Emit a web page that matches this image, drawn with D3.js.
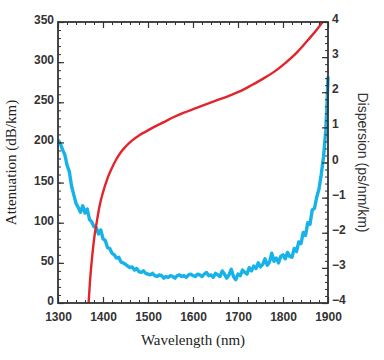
<!DOCTYPE html>
<html><head><meta charset="utf-8">
<script src="https://cdn.jsdelivr.net/npm/d3@7"></script>
<style>body{margin:0;background:#fff}svg{display:block}</style>
</head><body>
<svg id="c" width="384" height="360"></svg>
<script>
// ---- data ----
const attWavelength = [1300,1305,1310,1315,1320,1325,1330,1335,1340,1345,1350,1355,1360,1365,1370,1375,1380,1385,1390,1395,
1400,1405,1410,1415,1420,1425,1430,1435,1440,1445,1450,1455,1460,1465,1470,1475,1480,1485,1490,1495,
1500,1505,1510,1515,1520,1525,1530,1535,1540,1545,1550,1555,1560,1565,1570,1575,1580,1585,1590,1595,
1600,1605,1610,1615,1620,1625,1630,1635,1640,1645,1650,1655,1660,1665,1670,1675,1680,1685,1690,1695,
1700,1705,1710,1715,1720,1725,1730,1735,1740,1745,1750,1755,1760,1765,1770,1775,1780,1785,1790,1795,
1800,1805,1810,1815,1820,1825,1830,1835,1840,1845,1850,1855,1860,1865,1870,1875,1880,1885,1890,1895,1898,1900];
const attValues = [203,199,191,185,172,164,146,135,124,119,113,121,112,117,104,101,95,94,86,91,
80,78,69,68,62,60,56,57,51,50,48,46,44,45,41,43,39,38,40,37,
36,35,37,34,33,35,34,31,33,32,34,33,31,34,35,33,34,32,35,36,
34,33,36,35,33,36,38,34,35,32,37,35,33,40,36,31,35,42,33,29,
36,34,41,38,36,44,40,46,43,50,45,48,55,47,51,62,52,56,50,58,
60,55,63,58,57,68,64,76,74,88,84,100,98,116,118,132,142,160,182,215,250,282];

const dispWavelength = [1368,1371,1375,1380,1386,1393,1400,1410,1420,1430,1440,1450,1465,1480,1495,1515,1535,1555,
1580,1605,1630,1655,1680,1705,1730,1755,1780,1805,1830,1855,1875,1888];
const dispValues = [-4.0,-3.4,-2.8,-2.2,-1.7,-1.2,-0.85,-0.45,-0.15,0.1,0.3,0.45,0.63,0.77,0.88,1.02,1.15,1.28,
1.42,1.54,1.66,1.78,1.9,2.03,2.2,2.38,2.58,2.83,3.12,3.48,3.78,4.0];

const xTicks = [1300,1400,1500,1600,1700,1800,1900];
const yLeftTicks = [0,50,100,150,200,250,300,350];
const yRightTicks = [-4,-3,-2,-1,0,1,2,3,4];

// ---- layout ----
const L = 58, R = 328, T = 22, B = 303;
const svg = d3.select("#c");
const x = d3.scaleLinear().domain([1300,1900]).range([L,R]);
const yL = d3.scaleLinear().domain([0,350]).range([B,T]);
const yR = d3.scaleLinear().domain([-4,4]).range([B,T]);

const axisCol = "#333";
const tickFont = "bold 12px 'Liberation Sans', Arial, sans-serif";

// curves (clipped)
svg.append("clipPath").attr("id","clip").append("rect").attr("x",L).attr("y",T-2).attr("width",R-L+2).attr("height",B-T+2);
const g = svg.append("g").attr("clip-path","url(#clip)");

g.append("path")
  .datum(attWavelength.map((w,i)=>[w,attValues[i]]))
  .attr("fill","none").attr("stroke","#16b2e8").attr("stroke-width",3.4).attr("stroke-linejoin","round")
  .attr("d", d3.line().x(d=>x(d[0])).y(d=>yL(d[1])));

g.append("path")
  .datum(dispWavelength.map((w,i)=>[w,dispValues[i]]))
  .attr("fill","none").attr("stroke","#e3242b").attr("stroke-width",2.4)
  .attr("d", d3.line().curve(d3.curveMonotoneX).x(d=>x(d[0])).y(d=>yR(d[1])));

// minor ticks
function minor(axis, tr, vals){
  const a = svg.append("g").attr("transform",tr).call(axis.tickValues(vals).tickSize(-3).tickFormat(""));
  a.select(".domain").remove();
  a.selectAll("line").attr("stroke",axisCol).attr("stroke-width",1);
}
const xMinor = x.ticks(30), yLMinor = yL.ticks(35), yRMinor = yR.ticks(40);
minor(d3.axisBottom(x), `translate(0,${B})`, xMinor);
minor(d3.axisTop(x), `translate(0,${T})`, xMinor);
minor(d3.axisLeft(yL), `translate(${L},0)`, yLMinor);
minor(d3.axisRight(yR), `translate(${R},0)`, yRMinor);

// major axes
function major(axis, tr, vals, labels){
  const a = svg.append("g").attr("transform",tr)
    .call(axis.tickValues(vals).tickSizeInner(-6).tickSizeOuter(0).tickPadding(4).tickFormat(d3.format("d")));
  a.select(".domain").remove();
  a.selectAll("line").attr("stroke",axisCol).attr("stroke-width",1.2);
  if(!labels) a.selectAll("text").remove();
  else a.selectAll("text").style("font",tickFont).attr("fill","#333");
  return a;
}
major(d3.axisBottom(x), `translate(0,${B})`, xTicks, true).selectAll("text").attr("y",9);
major(d3.axisTop(x), `translate(0,${T})`, xTicks, false);
major(d3.axisLeft(yL), `translate(${L},0)`, yLeftTicks, true).selectAll("text").attr("dy","0.12em");
major(d3.axisRight(yR), `translate(${R},0)`, yRightTicks, true).selectAll("text").attr("dy","0.05em");

// frame
svg.append("rect").attr("x",L).attr("y",T).attr("width",R-L).attr("height",B-T)
  .attr("fill","none").attr("stroke",axisCol).attr("stroke-width",1.8);

// axis titles
svg.append("text").attr("transform",`translate(16,${(T+B)/2}) rotate(-90)`)
  .attr("text-anchor","middle").attr("fill","#222")
  .style("font","15px 'Liberation Serif', 'Times New Roman', serif").text("Attenuation (dB/km)");
svg.append("text").attr("x",(L+R)/2).attr("y",345)
  .attr("text-anchor","middle").attr("fill","#222")
  .style("font","15px 'Liberation Serif', 'Times New Roman', serif").text("Wavelength (nm)");
svg.append("text").attr("transform",`translate(358,${(T+B)/2}) rotate(90)`)
  .attr("text-anchor","middle").attr("fill","#333")
  .style("font","14px 'Liberation Sans', Arial, sans-serif").text("Dispersion (ps/nm/km)");
</script>
</body></html>
